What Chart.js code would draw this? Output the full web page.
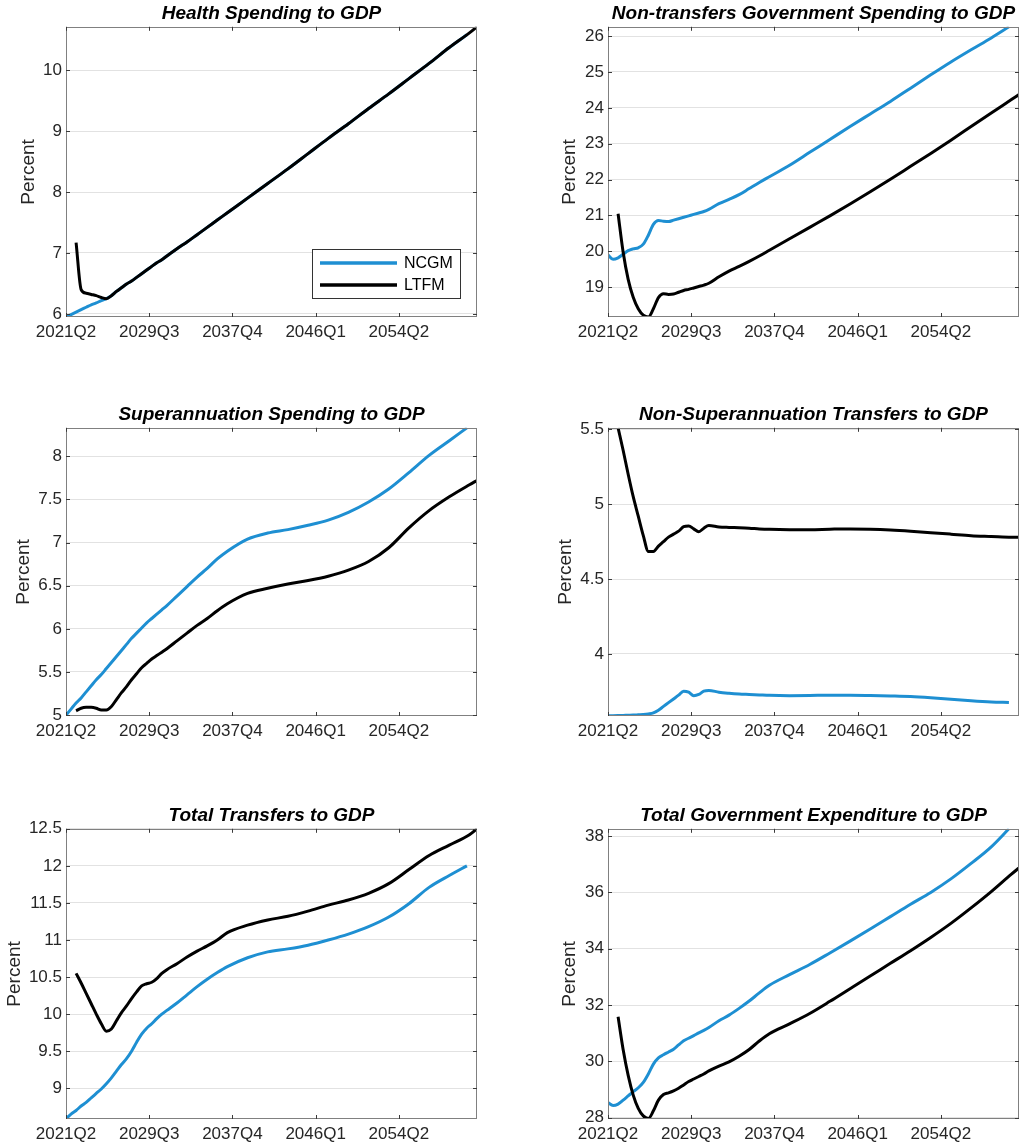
<!DOCTYPE html>
<html>
<head>
<meta charset="utf-8">
<script src="https://cdn.jsdelivr.net/npm/chart.js@4.4.1/dist/chart.umd.min.js"></script>
<style>
  html, body { margin: 0; padding: 0; background: #fff; }
  body { width: 1025px; height: 1145px; position: relative; overflow: hidden; }
  canvas { position: absolute; }
</style>
</head>
<body>
<canvas id="p1"></canvas>
<canvas id="p2"></canvas>
<canvas id="p3"></canvas>
<canvas id="p4"></canvas>
<canvas id="p5"></canvas>
<canvas id="p6"></canvas>
<script>
// quarter index: 0 = 2021Q2
const ncgmQ = [0,2,4,6,8,10,12,14,16,18,20,22,24,26,28,30,32,34,36,38,40,44,48,52,56,60,64,72,80,88,96,104,112,120,128,136,144,152,159];
const ltfmQ = [4,6,8,10,12,14,16,18,20,22,24,26,28,30,32,34,36,38,40,44,48,52,56,60,64,72,80,88,96,104,112,120,128,136,144,152,160,163];
const xTicks = [0, 33, 66, 99, 132];

const healthNCGM = [5.95,5.99,6.03,6.07,6.11,6.15,6.18,6.22,6.25,6.30, 6.37,6.43,6.49,6.54,6.60,6.66,6.72,6.78,6.84,6.89, 6.95,7.07,7.18,7.30,7.42,7.54,7.66,7.90,8.14,8.38, 8.63,8.88,9.12,9.37,9.61,9.86,10.11,10.37,10.58];
const healthLTFM = [7.17,6.40,6.34,6.32,6.30,6.27,6.25, 6.30,6.37,6.43,6.49,6.54,6.60,6.66,6.72,6.78,6.84,6.89, 6.95,7.07,7.18,7.30,7.42,7.54,7.66, 7.90,8.14,8.38,8.63,8.88,9.12,9.37,9.61,9.86,10.11,10.37, 10.61,10.71];

const nonTransNCGM = [19.90,19.78,19.82,19.92,20.02,20.07,20.10,20.20,20.45,20.75, 20.86,20.84,20.83,20.87,20.91,20.95,20.99,21.03,21.07,21.11, 21.17,21.33,21.45,21.58,21.75,21.92,22.08,22.40,22.76,23.12, 23.48,23.83,24.18,24.55,24.92,25.28,25.62,25.95,26.26];
const nonTransLTFM = [21.05,19.98,19.22,18.72,18.40,18.22,18.17, 18.40,18.71,18.82,18.80,18.81,18.86,18.91,18.94,18.98,19.02,19.06, 19.11,19.29,19.45,19.58,19.72,19.87,20.03, 20.35,20.67,20.99,21.32,21.66,22.01,22.37,22.73,23.10,23.48,23.86, 24.23,24.37];

const superNCGM = [5.00,5.07,5.14,5.20,5.27,5.34,5.41,5.47,5.54,5.61, 5.68,5.75,5.82,5.89,5.95,6.01,6.07,6.12,6.17,6.22, 6.27,6.38,6.49,6.60,6.70,6.81,6.90,7.04,7.11,7.15, 7.20,7.26,7.35,7.47,7.62,7.81,8.01,8.18,8.33];
const superLTFM = [5.05,5.08,5.09,5.09,5.08,5.06,5.06, 5.10,5.18,5.26,5.33,5.41,5.48,5.55,5.60,5.65,5.69,5.73, 5.77,5.86,5.95,6.04,6.12,6.21,6.29, 6.41,6.47,6.52,6.56,6.61,6.68,6.78,6.94,7.17,7.37,7.53, 7.67,7.72];

const nonSuperNCGM = [3.587,3.588,3.589,3.590,3.591,3.592,3.594,3.596,3.600,3.607, 3.625,3.650,3.675,3.700,3.725,3.752,3.745,3.722,3.730,3.752, 3.757,3.745,3.738,3.733,3.730,3.727,3.724,3.722,3.723,3.725, 3.725,3.723,3.720,3.716,3.708,3.698,3.688,3.680,3.676];
const nonSuperLTFM = [5.51,5.36,5.20,5.05,4.92,4.79,4.685, 4.685,4.72,4.75,4.78,4.80,4.82,4.85,4.855,4.835,4.816,4.84, 4.857,4.848,4.845,4.843,4.840,4.835,4.832, 4.830,4.830,4.833,4.835,4.833,4.828,4.820,4.810,4.800,4.790,4.785, 4.780,4.780];

const totalTransNCGM = [8.59,8.65,8.70,8.76,8.81,8.87,8.93,8.99,9.06,9.14, 9.23,9.32,9.40,9.50,9.62,9.73,9.81,9.87,9.94,10.00, 10.05,10.15,10.26,10.37,10.47,10.56,10.64,10.76,10.84,10.88, 10.93,11.00,11.08,11.18,11.31,11.49,11.71,11.87,12.00];
const totalTransLTFM = [10.55,10.42,10.28,10.14,10.00,9.87,9.77, 9.80,9.91,10.02,10.11,10.21,10.30,10.38,10.41,10.43,10.48,10.55, 10.60,10.68,10.77,10.85,10.92,11.00,11.10, 11.20,11.27,11.32,11.39,11.47,11.54,11.63,11.76,11.95,12.14,12.28, 12.42,12.50];

const totalExpNCGM = [28.53,28.43,28.48,28.62,28.77,28.92,29.06,29.25,29.55,29.90, 30.12,30.23,30.33,30.43,30.58,30.73,30.82,30.91,31.01,31.10, 31.20,31.44,31.64,31.88,32.14,32.43,32.70,33.08,33.44,33.85, 34.27,34.70,35.14,35.58,36.00,36.48,37.03,37.62,38.26];
const totalExpLTFM = [31.58,30.42,29.50,28.80,28.33,28.06,27.97, 28.24,28.62,28.82,28.88,28.95,29.04,29.16,29.28,29.37,29.46,29.55, 29.66,29.83,29.98,30.18,30.42,30.72,30.98, 31.33,31.70,32.13,32.58,33.03,33.48,33.93,34.40,34.90,35.45,36.03, 36.65,36.87];

const BLUE = '#1e8fd2';
const TXT = '#262626';
Chart.defaults.font.family = "'Liberation Sans', Arial, sans-serif";

function quarterLabel(q) {
  const n = q + 1;
  return (2021 + Math.floor(n / 4)) + 'Q' + (n % 4 + 1);
}
function pts(qs, vals) {
  return qs.map((q, i) => ({ x: q, y: vals[i] }));
}

// MATLAB-like box with inward tick marks
const framePlugin = {
  id: 'frame',
  afterDatasetsDraw(chart) {
    const { ctx, chartArea: a, scales: { x, y } } = chart;
    ctx.save();
    ctx.strokeStyle = '#808080';
    ctx.lineWidth = 1;
    ctx.strokeRect(Math.round(a.left) + 0.5, Math.round(a.top) + 0.5,
      Math.round(a.right - a.left) - 1, Math.round(a.bottom - a.top) - 1);
    ctx.strokeStyle = '#3a3a3a';
    ctx.beginPath();
    x.ticks.forEach(t => {
      const px = Math.round(x.getPixelForValue(t.value)) + 0.5;
      ctx.moveTo(px, a.bottom); ctx.lineTo(px, a.bottom - 4);
      ctx.moveTo(px, a.top); ctx.lineTo(px, a.top + 4);
    });
    y.ticks.forEach(t => {
      const py = Math.round(y.getPixelForValue(t.value)) + 0.5;
      ctx.moveTo(a.left, py); ctx.lineTo(a.left + 4, py);
      ctx.moveTo(a.right, py); ctx.lineTo(a.right - 4, py);
    });
    ctx.stroke();
    ctx.restore();
  }
};

const insetLegend = {
  id: 'insetLegend',
  afterDraw(chart) {
    const { ctx, chartArea: a } = chart;
    const w = 148, h = 49;
    const bx = Math.round(a.right - 17 - w), by = Math.round(a.bottom - 19 - h);
    ctx.save();
    ctx.fillStyle = '#fff';
    ctx.fillRect(bx, by, w, h);
    ctx.strokeStyle = '#333';
    ctx.lineWidth = 1;
    ctx.strokeRect(bx + 0.5, by + 0.5, w, h);
    ctx.font = "16px 'Liberation Sans', Arial, sans-serif";
    ctx.textBaseline = 'middle';
    chart.data.datasets.forEach((ds, i) => {
      const ly = by + 14 + i * 22;
      ctx.strokeStyle = ds.borderColor;
      ctx.lineWidth = 3.5;
      ctx.beginPath();
      ctx.moveTo(bx + 8, ly); ctx.lineTo(bx + 85, ly);
      ctx.stroke();
      ctx.fillStyle = '#000';
      ctx.fillText(ds.label, bx + 92, ly + 1);
    });
    ctx.restore();
  }
};

function makePanel(p) {
  const cv = document.getElementById(p.id);
  cv.width = p.w; cv.height = p.h;
  cv.style.left = p.left + 'px';
  cv.style.top = p.top + 'px';
  return new Chart(cv, {
    type: 'line',
    data: {
      datasets: [
        { label: 'NCGM', data: pts(ncgmQ, p.ncgm), borderColor: BLUE, order: 1 },
        { label: 'LTFM', data: pts(ltfmQ, p.ltfm), borderColor: '#000', order: 0 }
      ]
    },
    options: {
      responsive: false,
      animation: false,
      devicePixelRatio: 1,
      elements: {
        point: { radius: 0 },
        line: { borderWidth: 3, cubicInterpolationMode: 'monotone', fill: false }
      },
      layout: { padding: { left: p.padL, right: p.padR, top: 0, bottom: 0 } },
      plugins: {
        legend: { display: false },
        tooltip: { enabled: false },
        title: {
          display: true, text: p.title, fullSize: false, color: '#000',
          font: { size: 19, weight: 'bold', style: 'italic' },
          padding: { top: 2, bottom: 2 }
        }
      },
      scales: {
        x: {
          type: 'linear', min: 0, max: 163,
          grid: { display: false, drawTicks: false },
          border: { display: false },
          afterBuildTicks: s => { s.ticks = xTicks.map(v => ({ value: v })); },
          ticks: {
            autoSkip: false, maxRotation: 0, padding: 5, color: TXT,
            font: { size: 17 },
            callback: v => quarterLabel(v)
          },
          afterFit: s => { s.height = 26; }
        },
        y: {
          min: p.yMin, max: p.yMax,
          grid: { color: '#e2e2e2', drawTicks: false },
          border: { display: false },
          ticks: {
            stepSize: p.step, includeBounds: false, padding: 4, color: TXT,
            font: { size: 17 },
            callback: v => String(Number(v.toFixed(2)))
          },
          title: { display: true, text: 'Percent', color: TXT, font: { size: 19 }, padding: 0 },
          afterFit: s => { s.width = p.axisW; }
        }
      }
    },
    plugins: p.legend ? [framePlugin, insetLegend] : [framePlugin]
  });
}

const panels = [
  { id: 'p1', left: 0, top: 0, w: 500, h: 343, padL: 17.4, axisW: 48.6, padR: 23,
    title: 'Health Spending to GDP', ncgm: healthNCGM, ltfm: healthLTFM, yMin: 5.95, yMax: 10.71, step: 1, legend: true },
  { id: 'p2', left: 512, top: 0, w: 513, h: 343, padL: 46.8, axisW: 49.2, padR: 6,
    title: 'Non-transfers Government Spending to GDP', ncgm: nonTransNCGM, ltfm: nonTransLTFM, yMin: 18.17, yMax: 26.26, step: 1 },
  { id: 'p3', left: 0, top: 401, w: 500, h: 341, padL: 12.8, axisW: 53.2, padR: 23,
    title: 'Superannuation Spending to GDP', ncgm: superNCGM, ltfm: superLTFM, yMin: 4.99, yMax: 8.33, step: 0.5 },
  { id: 'p4', left: 512, top: 401, w: 513, h: 341, padL: 41.9, axisW: 54.1, padR: 6,
    title: 'Non-Superannuation Transfers to GDP', ncgm: nonSuperNCGM, ltfm: nonSuperLTFM, yMin: 3.586, yMax: 5.51, step: 0.5 },
  { id: 'p5', left: 0, top: 802, w: 500, h: 343, padL: 3.4, axisW: 62.6, padR: 23,
    title: 'Total Transfers to GDP', ncgm: totalTransNCGM, ltfm: totalTransLTFM, yMin: 8.585, yMax: 12.5, step: 0.5 },
  { id: 'p6', left: 512, top: 802, w: 513, h: 343, padL: 46.4, axisW: 49.6, padR: 6,
    title: 'Total Government Expenditure to GDP', ncgm: totalExpNCGM, ltfm: totalExpLTFM, yMin: 27.95, yMax: 38.26, step: 2 }
];

panels.forEach(makePanel);
</script>
</body>
</html>
